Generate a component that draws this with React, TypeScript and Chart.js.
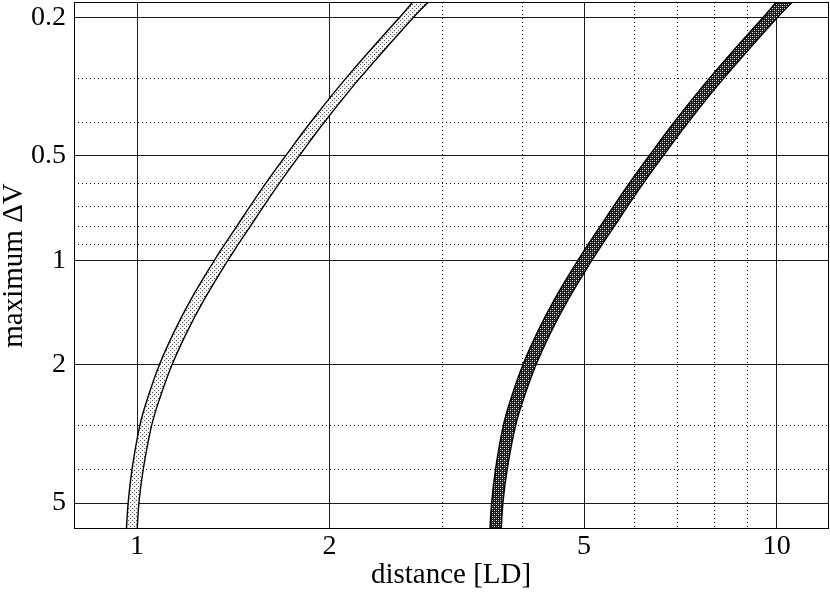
import React, { useEffect, useRef } from 'react';
import { Chart, registerables } from 'chart.js';

Chart.register(...registerables);

// Axis ticks
const xMajor = [1, 2, 5, 10];
const xMinor = [3, 4, 6, 7, 8, 9];
const yMajor = [0.2, 0.5, 1, 2, 5];
const yMinor = [0.3, 0.4, 0.6, 0.7, 0.8, 0.9, 3, 4];
const xLabels: Record<string, string> = { '1': '1', '2': '2', '5': '5', '10': '10' };
const yLabels: Record<string, string> = { '0.2': '0.2', '0.5': '0.5', '1': '1', '2': '2', '5': '5' };

// maximum ΔV levels at which the band edges were sampled
const deltaV = [6.5, 5, 4, 3, 2.5, 2, 1.6, 1.3, 1, 0.9, 0.8, 0.7, 0.6, 0.5, 0.4, 0.3, 0.2, 0.15];

// Light (stippled) band: inner / outer distance [LD]
const bandAInner = [0.96014, 0.96847, 0.98216, 1.00977, 1.03853, 1.08398, 1.14412, 1.21327, 1.32134, 1.37076, 1.43076, 1.50147, 1.58993, 1.70799, 1.86952, 2.11897, 2.57284, 2.97352];
const bandAOuter = [0.9982, 1.00686, 1.02257, 1.05359, 1.08515, 1.13429, 1.19895, 1.27279, 1.38715, 1.43953, 1.50255, 1.57683, 1.66968, 1.79365, 1.96336, 2.22688, 2.70387, 3.12724];

// Dark (cross-hatched) band: inner / outer distance [LD]
const bandBInner = [3.5532, 3.584, 3.6347, 3.7369, 3.8433, 4.0115, 4.2341, 4.49, 4.8899, 5.0728, 5.2948, 5.5565, 5.8839, 6.3208, 6.9185, 7.8417, 9.5213, 11.0041];
const bandBOuter = [3.7007, 3.7328, 3.7911, 3.9061, 4.0231, 4.2053, 4.445, 4.7187, 5.1427, 5.3369, 5.5705, 5.8459, 6.1902, 6.6498, 7.279, 8.2559, 10.0243, 11.5939];

const FONT = "'Liberation Serif', 'Times New Roman', serif";

function makePattern(bg: string, size: number, dots: [number, number, string][]) {
  const c = document.createElement('canvas');
  c.width = size;
  c.height = size;
  const g = c.getContext('2d')!;
  g.fillStyle = bg;
  g.fillRect(0, 0, size, size);
  dots.forEach(([x, y, col]) => {
    g.fillStyle = col;
    g.fillRect(x, y, 1, 1);
  });
  return g.createPattern(c, 'repeat')!;
}

function polygon(inner: number[], outer: number[]) {
  const pts = inner.map((x, i) => ({ x, y: deltaV[i] }));
  for (let i = outer.length - 1; i >= 0; i--) pts.push({ x: outer[i], y: deltaV[i] });
  return pts;
}

const framePlugin = {
  id: 'frame',
  afterDraw(chart: any) {
    const { ctx, chartArea: a } = chart;
    ctx.save();
    ctx.strokeStyle = '#000';
    ctx.lineWidth = 1;
    ctx.strokeRect(a.left + 0.5, a.top + 0.5, a.right - a.left, a.bottom - a.top - 1);
    ctx.restore();
  },
};

export default function App() {
  const ref = useRef<HTMLCanvasElement>(null);

  useEffect(() => {
    if (!ref.current) return;
    const patA = makePattern('#f4f4f4', 4, [[0, 0, '#555'], [2, 2, '#555']]);
    const patB = makePattern('#1a1a1a', 4, [[0, 0, '#ffffff'], [2, 2, '#ffffff'], [2, 0, '#888'], [0, 2, '#888']]);

    const isMinorX = (v: number) => xMinor.includes(v);
    const isMinorY = (v: number) => yMinor.includes(v);

    const chart = new Chart(ref.current, {
      type: 'scatter',
      data: {
        datasets: [
          {
            data: polygon(bandAInner, bandAOuter),
            showLine: true,
            fill: 'shape',
            tension: 0.4,
            backgroundColor: patA,
            borderColor: '#000',
            borderWidth: 1.4,
            pointRadius: 0,
          },
          {
            data: polygon(bandBInner, bandBOuter),
            showLine: true,
            fill: 'shape',
            tension: 0.4,
            backgroundColor: patB,
            borderColor: '#000',
            borderWidth: 1.4,
            pointRadius: 0,
          },
        ],
      } as any,
      options: {
        animation: false,
        responsive: false,
        devicePixelRatio: 1,
        layout: { padding: { top: 2, right: 2, left: 0, bottom: 0 } },
        elements: { line: { capBezierPoints: false } as any },
        plugins: { legend: { display: false }, tooltip: { enabled: false } },
        scales: {
          x: {
            type: 'logarithmic',
            min: 0.797,
            max: 12.03,
            afterBuildTicks: (s: any) => {
              s.ticks = [...xMajor, ...xMinor].sort((a, b) => a - b).map((v) => ({ value: v }));
            },
            afterFit: (s: any) => {
              s.height = 64;
              s.paddingLeft = 0;
              s.paddingRight = 0;
            },
            ticks: {
              autoSkip: false,
              maxRotation: 0,
              padding: 4,
              color: '#000',
              font: { family: FONT, size: 28, lineHeight: 1 },
              callback: (v: any) => xLabels[String(v)] ?? '',
            },
            grid: {
              drawTicks: false,
              lineWidth: 1,
              color: (c: any) => (isMinorX(c.tick?.value) ? '#000' : '#1a1a1a'),
            },
            border: {
              display: false,
              dash: (c: any) => (isMinorX(c.tick?.value) ? [1, 3] : []),
            } as any,
            title: {
              display: true,
              text: 'distance [LD]',
              color: '#000',
              font: { family: FONT, size: 29, lineHeight: 1.2 },
              padding: 0,
            },
          },
          y: {
            type: 'logarithmic',
            reverse: true,
            min: 0.1805,
            max: 5.94,
            afterBuildTicks: (s: any) => {
              s.ticks = [...yMajor, ...yMinor].sort((a, b) => a - b).map((v) => ({ value: v }));
            },
            afterFit: (s: any) => {
              s.width = 74;
              s.paddingTop = 0;
              s.paddingBottom = 0;
            },
            ticks: {
              autoSkip: false,
              padding: 8,
              color: '#000',
              font: { family: FONT, size: 28, lineHeight: 1 },
              callback: (v: any) => yLabels[String(v)] ?? '',
            },
            grid: {
              drawTicks: false,
              lineWidth: 1,
              color: (c: any) => (isMinorY(c.tick?.value) ? '#000' : '#1a1a1a'),
            },
            border: {
              display: false,
              dash: (c: any) => (isMinorY(c.tick?.value) ? [1, 3] : []),
            } as any,
            title: {
              display: true,
              text: 'maximum ΔV',
              color: '#000',
              font: { family: FONT, size: 29, lineHeight: 1 },
              padding: 0,
            },
          },
        },
      } as any,
      plugins: [framePlugin],
    });
    return () => chart.destroy();
  }, []);

  return (
    <div style={{ position: 'absolute', left: 0, top: 0, width: 830, height: 593, background: '#fff' }}>
      <canvas ref={ref} width={830} height={593} style={{ display: 'block', width: 830, height: 593 }} />
    </div>
  );
}
